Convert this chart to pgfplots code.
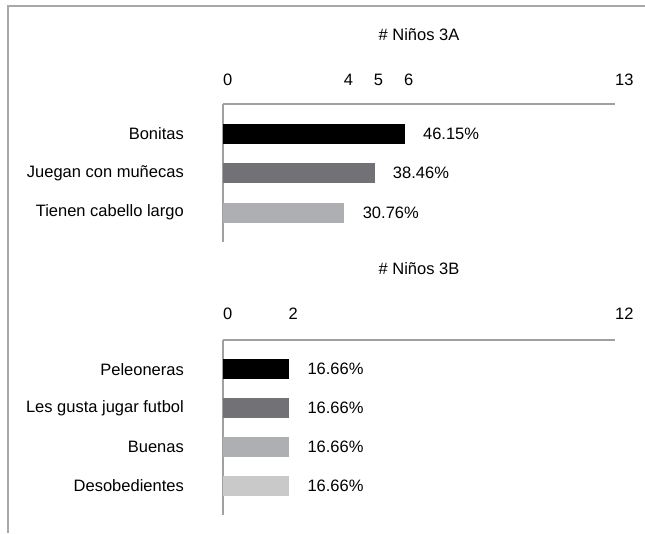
\documentclass[border=0pt]{standalone}
\usepackage{pgfplots}
\pgfplotsset{compat=1.18}
\usepackage{fontspec}
\setmainfont{Liberation Sans}

\definecolor{barA}{HTML}{000000}
\definecolor{barB}{HTML}{727276}
\definecolor{barC}{HTML}{AEAFB2}
\definecolor{barD}{HTML}{C9C9C9}
\definecolor{axisgray}{HTML}{A0A0A0}
\definecolor{framegray}{HTML}{A8A8A8}

\pgfplotsset{
  ninos/.style={
    scale only axis,
    width=392pt,
    xmin=0,
    axis x line=top,
    axis y line=left,
    axis line style={-, draw=axisgray, line width=1.2pt},
    major tick length=0pt,
    xbar,
    bar shift=0pt,
    bar width=19pt,
    font=\fontsize{16.5}{19}\selectfont,
    /pgf/number format/assume math mode=true,
    xticklabel style={anchor=west, inner sep=0pt, yshift=24pt},
    yticklabel style={anchor=east, inner sep=0pt, xshift=-39pt},
    title style={at={(0.5,1)}, anchor=center, inner sep=0pt},
    point meta=explicit symbolic,
    nodes near coords,
    nodes near coords style={anchor=west, inner sep=0pt, xshift=19pt, text=black},
    clip=false,
  },
}

\begin{document}
\begin{tikzpicture}[x=1pt,y=1pt]
  \path[use as bounding box] (0,0) rectangle (645,-533);
  \draw[framegray, line width=1.4pt] (645,-6) -- (8,-6) -- (8,-533);

  % Grupo 3A
  \begin{axis}[ninos,
      at={(223pt,-104pt)}, anchor=north west,
      height=138pt,
      xmax=13, xtick={0,4,5,6,13},
      ymin=0.25, ymax=3.75,
      ytick={1,2,3},
      yticklabels={Tienen cabello largo, Juegan con muñecas, Bonitas},
      title={\# Niños 3A},
      title style={yshift=63pt},
    ]
    \addplot[fill=barA, draw=barA] coordinates {(6,3) [46.15\%]};
    \addplot[fill=barB, draw=barB] coordinates {(5,2) [38.46\%]};
    \addplot[fill=barC, draw=barC] coordinates {(4,1) [30.76\%]};
  \end{axis}

  % Grupo 3B
  \begin{axis}[ninos,
      at={(223pt,-340pt)}, anchor=north west,
      height=175pt,
      xmax=12, xtick={0,2,12},
      xticklabel style={yshift=2pt},
      ymin=0.25, ymax=4.75,
      ytick={1,2,3,4},
      yticklabels={Desobedientes, Buenas, Les gusta jugar futbol, Peleoneras},
      title={\# Niños 3B},
      title style={yshift=65.5pt},
    ]
    \addplot[fill=barA, draw=barA] coordinates {(2,4) [16.66\%]};
    \addplot[fill=barB, draw=barB] coordinates {(2,3) [16.66\%]};
    \addplot[fill=barC, draw=barC] coordinates {(2,2) [16.66\%]};
    \addplot[fill=barD, draw=barD] coordinates {(2,1) [16.66\%]};
  \end{axis}
\end{tikzpicture}
\end{document}
